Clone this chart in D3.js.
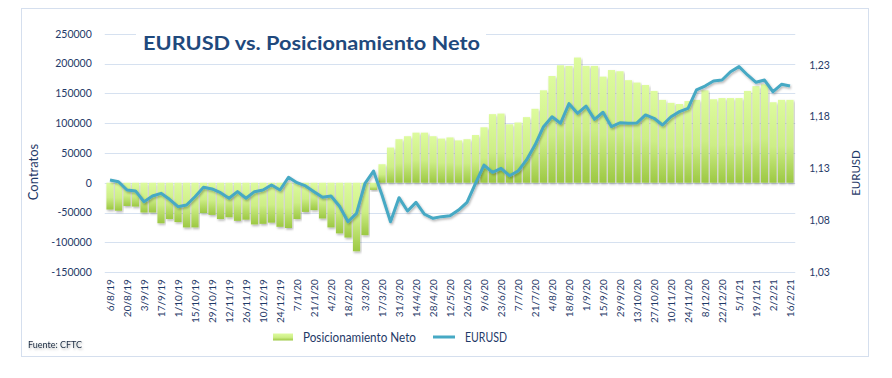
<!DOCTYPE html>
<html>
<head>
<meta charset="utf-8">
<script src="https://cdnjs.cloudflare.com/ajax/libs/d3/7.8.5/d3.min.js"></script>
<style>
  body { margin: 0; background: #fff; }
  #chart text { font-family: Lato, "Open Sans", sans-serif; }
</style>
</head>
<body>
<div id="chart"></div>
<script>
// semanas (categorias)
var fechas = ["6/8/19","13/8/19","20/8/19","27/8/19","3/9/19","10/9/19","17/9/19","24/9/19",
  "1/10/19","8/10/19","15/10/19","22/10/19","29/10/19","5/11/19","12/11/19","19/11/19",
  "26/11/19","3/12/19","10/12/19","17/12/19","24/12/19","31/12/19","7/1/20","14/1/20",
  "21/1/20","28/1/20","4/2/20","11/2/20","18/2/20","25/2/20","3/3/20","10/3/20",
  "17/3/20","24/3/20","31/3/20","7/4/20","14/4/20","21/4/20","28/4/20","5/5/20",
  "12/5/20","19/5/20","26/5/20","2/6/20","9/6/20","16/6/20","23/6/20","30/6/20",
  "7/7/20","14/7/20","21/7/20","28/7/20","4/8/20","11/8/20","18/8/20","25/8/20",
  "1/9/20","8/9/20","15/9/20","22/9/20","29/9/20","6/10/20","13/10/20","20/10/20",
  "27/10/20","3/11/20","10/11/20","17/11/20","24/11/20","1/12/20","8/12/20","15/12/20",
  "22/12/20","29/12/20","5/1/21","12/1/21","19/1/21","26/1/21","2/2/21","9/2/21","16/2/21"];

// posicionamiento neto (contratos)
var neto = [-45000,-47000,-39000,-40000,-50000,-50000,-68000,-61000,
  -66000,-75000,-75000,-51000,-54000,-61000,-58000,-64000,
  -62000,-70000,-69000,-67000,-74000,-76000,-61000,-49000,
  -46000,-60000,-75000,-85000,-92000,-115000,-88000,-12000,
  31000,59000,73000,78000,84000,84000,78000,74000,
  76000,71000,73000,80000,93000,115000,116000,98000,
  101000,110000,124000,155000,179000,197000,196000,210000,
  196000,196000,178000,189000,187000,172000,168000,164000,
  154000,139000,134000,132000,137000,139000,155000,140000,
  142000,142000,142000,154000,162000,165000,135000,139000,139000];

// EURUSD
var eurusd = [1.1189,1.1172,1.1092,1.1083,1.0979,1.1034,1.1060,1.1002,
  1.0931,1.0947,1.1027,1.1118,1.1102,1.1066,1.1012,1.1076,
  1.1012,1.1076,1.1092,1.1140,1.1092,1.1215,1.1163,1.1131,
  1.1076,1.1022,1.1034,1.0936,1.0786,1.0867,1.1157,1.1275,
  1.1044,1.0786,1.1018,1.0890,1.0973,1.0858,1.0819,1.0835,
  1.0844,1.0899,1.0973,1.1157,1.1333,1.1263,1.1301,1.1230,
  1.1275,1.1382,1.1526,1.1703,1.1799,1.1736,1.1925,1.1832,
  1.1902,1.1774,1.1842,1.1703,1.1741,1.1736,1.1739,1.1816,
  1.1784,1.1719,1.1799,1.1848,1.1880,1.2057,1.2095,1.2144,
  1.2153,1.2233,1.2282,1.2202,1.2131,1.2153,1.2040,1.2112,1.2095];

var ticksIzq = [-150000,-100000,-50000,0,50000,100000,150000,200000,250000];
var ticksDer = [1.03,1.08,1.13,1.18,1.23];

var W = 892, H = 378;
var plot = { left: 105.75, right: 794.25, top: 33.7, bottom: 272.1 };
var azul = "#1f3a68";

var svg = d3.select("#chart").append("svg")
  .attr("width", W).attr("height", H);

var defs = svg.append("defs");
var grad = defs.append("linearGradient")
  .attr("id", "verde").attr("x1", 0).attr("y1", 0).attr("x2", 0).attr("y2", 1);
grad.append("stop").attr("offset", "0%").attr("stop-color", "#ddfb9e");
grad.append("stop").attr("offset", "55%").attr("stop-color", "#cdee86");
grad.append("stop").attr("offset", "100%").attr("stop-color", "#9cc843");

var sombra = defs.append("filter").attr("id", "sombra")
  .attr("x", "-10%").attr("y", "-10%").attr("width", "130%").attr("height", "130%");
sombra.append("feDropShadow").attr("dx", 1).attr("dy", 1.5)
  .attr("stdDeviation", 0.8).attr("flood-color", "#000").attr("flood-opacity", 0.3);

// marco
svg.append("rect")
  .attr("x", 21.5).attr("y", 8.5).attr("width", 847).attr("height", 348)
  .attr("fill", "#fff").attr("stroke", "#d5dfee").attr("stroke-width", 1);

// escalas
var x = d3.scaleBand().domain(fechas).range([plot.left, plot.right]).paddingInner(0.16).paddingOuter(0.08);
var y = d3.scaleLinear().domain([-150000, 250000]).range([plot.bottom, plot.top]);
var y2 = d3.scaleLinear().domain([1.03, 1.26]).range([plot.bottom, plot.top]);

// lineas de la rejilla
svg.append("g").selectAll("line").data(ticksIzq).join("line")
  .attr("x1", plot.left - 1).attr("x2", plot.right + 1)
  .attr("y1", d => Math.round(y(d)) + 0.5).attr("y2", d => Math.round(y(d)) + 0.5)
  .attr("stroke", "#d6e1f0").attr("stroke-width", 1.2);

// eje izquierdo
var ejeIzq = svg.append("g")
  .attr("transform", "translate(" + (plot.left - 11) + ",0)")
  .call(d3.axisLeft(y).tickValues(ticksIzq).tickSize(0).tickFormat(d => String(d)));
ejeIzq.select(".domain").remove();
ejeIzq.selectAll("text").attr("fill", azul).attr("font-size", 10.5)
  .style("font-family", "Lato, sans-serif");

// eje derecho
var ejeDer = svg.append("g")
  .attr("transform", "translate(" + (plot.right + 12) + ",0)")
  .call(d3.axisRight(y2).tickValues(ticksDer).tickSize(0)
    .tickFormat(d => d3.format(".2f")(d).replace(".", ",")));
ejeDer.select(".domain").remove();
ejeDer.selectAll("text").attr("fill", azul).attr("font-size", 10.5)
  .style("font-family", "Lato, sans-serif");

// eje x con etiquetas cada dos semanas
var ejeX = svg.append("g")
  .attr("transform", "translate(0," + (plot.bottom + 7) + ")")
  .call(d3.axisBottom(x).tickValues(fechas.filter((d, i) => i % 2 == 0)).tickSize(0));
ejeX.select(".domain").remove();
ejeX.selectAll("text")
  .attr("transform", "rotate(-90)")
  .attr("x", 0).attr("y", 0).attr("dy", "0.35em")
  .attr("text-anchor", "end")
  .attr("fill", azul).attr("font-size", 10)
  .style("font-family", "Lato, sans-serif");

// barras
svg.append("g").selectAll("rect").data(fechas).join("rect")
  .attr("x", d => x(d))
  .attr("width", x.bandwidth())
  .attr("y", (d, i) => y(Math.max(0, neto[i])))
  .attr("height", (d, i) => Math.abs(y(neto[i]) - y(0)))
  .attr("fill", "url(#verde)")
  .attr("filter", "url(#sombra)");

// linea EURUSD
var linea = d3.line()
  .x((d, i) => x(fechas[i]) + x.bandwidth() / 2)
  .y(d => y2(d));
svg.append("path").datum(eurusd)
  .attr("d", linea)
  .attr("fill", "none")
  .attr("stroke", "#46a9c4")
  .attr("stroke-width", 3)
  .attr("stroke-linejoin", "round")
  .attr("filter", "url(#sombra)");

// titulo con fondo blanco
svg.append("rect").attr("x", 136).attr("y", 26).attr("width", 350).attr("height", 32).attr("fill", "#fff");
svg.append("text")
  .attr("x", 143).attr("y", 50)
  .attr("textLength", 337).attr("lengthAdjust", "spacingAndGlyphs")
  .attr("font-size", 19.5).attr("font-weight", "bold")
  .attr("fill", "#1f497d")
  .text("EURUSD vs. Posicionamiento Neto");

// titulos de ejes
svg.append("text")
  .attr("transform", "translate(38,172) rotate(-90)")
  .attr("text-anchor", "middle").attr("font-size", 13).attr("fill", azul)
  .text("Contratos");
svg.append("text")
  .attr("transform", "translate(860,173) rotate(-90)")
  .attr("text-anchor", "middle").attr("font-size", 11.5).attr("fill", azul)
  .text("EURUSD");

// leyenda
var ley = svg.append("g");
ley.append("rect").attr("x", 273).attr("y", 333.5).attr("width", 20).attr("height", 7)
  .attr("fill", "url(#verde)");
ley.append("text").attr("x", 303).attr("y", 341.5).attr("font-size", 12.5).attr("fill", azul)
  .attr("textLength", 113).attr("lengthAdjust", "spacingAndGlyphs")
  .text("Posicionamiento Neto");
ley.append("line").attr("x1", 433).attr("x2", 455).attr("y1", 337).attr("y2", 337)
  .attr("stroke", "#46a9c4").attr("stroke-width", 3);
ley.append("text").attr("x", 465).attr("y", 341.5).attr("font-size", 12.5).attr("fill", azul)
  .attr("textLength", 42).attr("lengthAdjust", "spacingAndGlyphs")
  .text("EURUSD");

// fuente
svg.append("text").attr("x", 28).attr("y", 348).attr("font-size", 9)
  .attr("fill", "#1b2a40").attr("filter", "url(#sombra)")
  .text("Fuente: CFTC");
</script>
</body>
</html>
